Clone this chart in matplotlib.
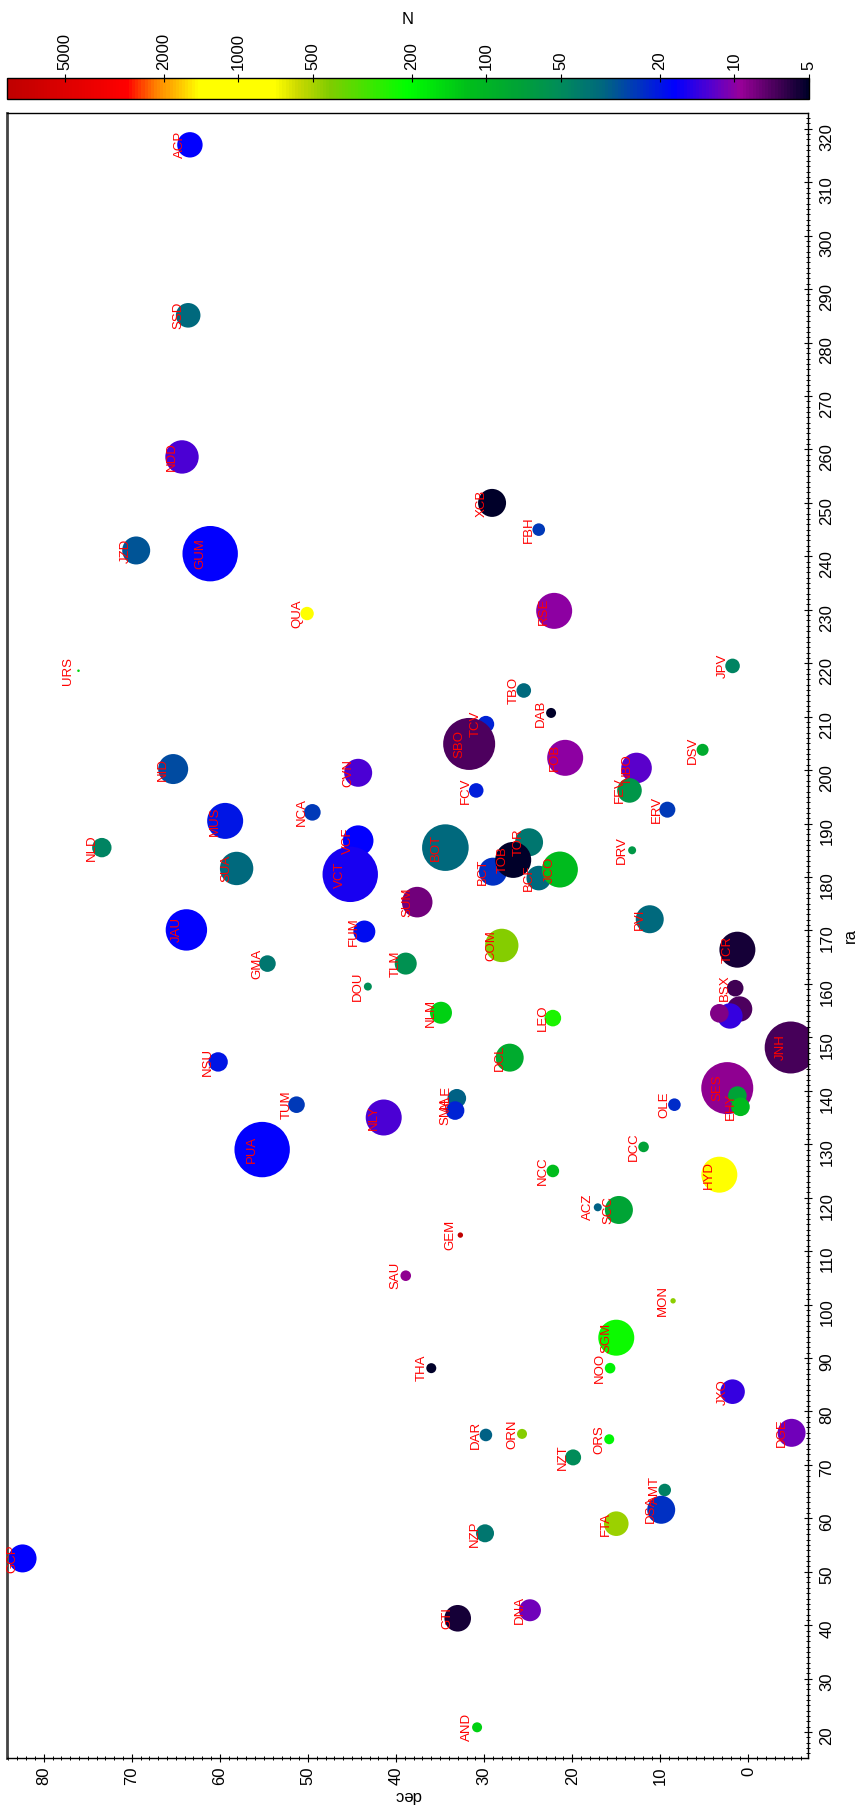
import numpy as np
import matplotlib
matplotlib.use('Agg')
import matplotlib.pyplot as plt
from matplotlib.colors import LinearSegmentedColormap, LogNorm
from matplotlib.ticker import MultipleLocator

plt.rcParams['font.family'] = ['Liberation Sans', 'DejaVu Sans']

# shower code, ra, dec, N and bubble weight (drawn in this order)
code = ['GCP', 'GTI', 'DNA', 'AND', 'NZP', 'FTA', 'AMT', 'DSA', 'NZT', 'DAR',
        'ORN', 'ORS', 'DGE', 'JXO', 'THA', 'NOO', 'SGM', 'MON', 'SAU', 'GEM',
        'ACZ', 'SCC', 'HYD', 'NCC', 'DCC', 'PUA', 'NLY', 'TUM', 'ALE', 'SMA',
        'OLE', 'SES', '', 'EHY', 'NSU', 'DCL', 'JNH', 'LEO', 'NLM', 'BSX',
        '', '', '', 'DOU', 'GMA', 'TLM', 'TCR', 'COM', 'FUM', 'JAU',
        'PVI', 'SUM', 'SUA', 'VCF', 'VCT', 'BOT', 'NLD', 'TOR', 'BCT', 'TOB',
        'BCF', 'JCO', 'DRV', 'MUS', 'NCA', 'ERV', 'FCV', 'NBO', 'FEV', 'NID',
        'CVN', 'FOB', 'DSV', 'TCV', 'SBO', 'DAB', 'TBO', 'URS', 'JPV', 'QUA',
        'RSE', 'GUM', 'JZD', 'FBH', 'XCB', 'NDD', 'SSD', 'ACP']
ra = [52.5, 41.3, 42.8, 20.9, 57.2, 59.0, 65.3, 61.6, 71.4, 75.6,
      75.8, 74.8, 76.0, 83.7, 88.1, 88.1, 93.8, 100.7, 105.4, 113.0,
      118.2, 117.7, 124.3, 125.0, 129.5, 129.0, 135.0, 137.4, 138.6, 136.3,
      137.4, 140.5, 139.1, 137.0, 145.4, 146.2, 148.1, 153.6, 154.6, 159.2,
      155.3, 154.0, 154.5, 159.5, 163.8, 163.8, 166.4, 167.2, 169.8, 170.1,
      172.1, 175.3, 181.6, 186.8, 180.5, 185.5, 185.5, 186.5, 181.0, 183.2,
      179.8, 181.4, 185.0, 190.5, 192.1, 192.6, 196.2, 200.4, 196.2, 200.2,
      199.5, 202.3, 203.8, 208.6, 204.9, 210.7, 214.9, 218.6, 219.5, 229.3,
      229.8, 240.5, 241.1, 245.0, 250.0, 258.6, 285.1, 317.0]
dec = [82.4, 33.0, 24.8, 30.8, 29.9, 15.0, 9.5, 9.9, 19.9, 29.8,
       25.7, 15.8, -4.9, 1.8, 36.0, 15.7, 15.0, 8.55, 38.9, 32.7,
       17.1, 14.7, 3.3, 22.2, 11.9, 55.2, 41.4, 51.3, 33.1, 33.3,
       8.4, 2.4, 1.25, 0.9, 60.2, 27.1, -4.8, 22.2, 34.9, 1.5,
       1.0, 2.1, 3.3, 43.2, 54.6, 38.9, 1.25, 28.0, 43.6, 63.8,
       11.2, 37.6, 58.1, 44.3, 45.2, 34.4, 73.4, 24.9, 29.0, 26.7,
       23.8, 21.4, 13.2, 59.4, 49.5, 9.2, 30.9, 12.7, 13.5, 65.3,
       44.3, 20.8, 5.2, 29.8, 31.7, 22.4, 25.5, 76.05, 1.8, 50.1,
       22.05, 61.1, 69.5, 23.8, 29.1, 64.3, 63.6, 63.4]
N = [17, 5.5, 11, 140, 40, 470, 45, 24, 50, 33,
     430, 195, 11, 14, 5, 190, 220, 450, 9, 8600,
     33, 75, 900, 115, 73, 17, 13, 25, 33, 22,
     23, 9, 73, 110, 20, 85, 6.7, 240, 140, 6.5,
     7, 14, 8.5, 52, 40, 55, 5.5, 440, 19, 17,
     35, 8, 35, 17, 16, 35, 46, 40, 24, 5,
     35, 110, 62, 20, 25, 25, 21, 12, 60, 28,
     13, 10, 85, 22, 7, 5, 35, 150, 46, 1000,
     10, 17, 30, 25, 5, 13, 35, 17]
w = [14, 13.3, 11, 5, 9, 12.3, 6.3, 14, 8, 6.3,
     5, 5, 14, 12.3, 5, 5.3, 18, 2.7, 5.3, 2.7,
     4, 14, 18, 6.3, 5.3, 27.7, 18, 8.3, 9.3, 9.3,
     6.3, 26, 9.3, 9.3, 9.7, 14, 26, 8.3, 11, 8.3,
     12.7, 12.7, 9.3, 4, 8.3, 11, 18, 16.7, 11, 20.7,
     14, 15.3, 16.7, 15.3, 27.7, 23.3, 9.7, 14, 14, 18,
     12.3, 18, 4, 18, 8.3, 8, 7.3, 15.3, 12.3, 15,
     14, 18, 6, 8.3, 26, 5, 7.3, 1.3, 7.3, 6.7,
     18, 27.7, 14, 6.3, 14, 16.7, 12.3, 12.7]

cb_ticks = [5, 10, 20, 50, 100, 200, 500, 1000, 2000, 5000]

cmap = LinearSegmentedColormap.from_list('nmap', [
    (0.0, (0.0, 0.0, 0.16)),
    (0.036, (0.25, 0.0, 0.33)),
    (0.084, (0.6, 0.0, 0.6)),
    (0.118, (0.35, 0.0, 0.8)),
    (0.166, (0.0, 0.0, 1.0)),
    (0.255, (0.0, 0.4, 0.5)),
    (0.31, (0.0, 0.55, 0.35)),
    (0.358, (0.0, 0.63, 0.22)),
    (0.426, (0.0, 0.75, 0.1)),
    (0.501, (0.0, 1.0, 0.0)),
    (0.597, (0.5, 0.8, 0.0)),
    (0.638, (0.8, 0.85, 0.0)),
    (0.666, (1.0, 1.0, 0.0)),
    (0.762, (1.0, 1.0, 0.0)),
    (0.782, (1.0, 0.8, 0.0)),
    (0.816, (1.0, 0.5, 0.0)),
    (0.851, (1.0, 0.0, 0.0)),
    (0.967, (0.8, 0.0, 0.0)),
    (1.0, (0.75, 0.0, 0.0))])
norm = LogNorm(vmin=5, vmax=max(N))

fig = plt.figure(figsize=(8.62, 18.16), dpi=100)
ax = fig.add_axes([6.7 / 862, 57.7 / 1816, 801.6 / 862, 1645 / 1816])
cax = fig.add_axes([6.6 / 862, (1816 - 99) / 1816, 802.4 / 862, 21 / 1816])

sizes = (1.44 * np.array(w)) ** 2
sc = ax.scatter(dec, ra, s=sizes, c=N, cmap=cmap, norm=norm,
                edgecolors='none', zorder=2)
for c, x, y in zip(code, dec, ra):
    if c:
        ax.annotate(c, (x, y), xytext=(-4, 0), textcoords='offset pixels',
                    rotation=90, ha='right', va='center', color='red',
                    fontsize=9.5, zorder=3)

ax.set_xlim(84.2, -6.8)
ax.set_ylim(15.1, 322.9)
ax.set_xticks(np.arange(0, 81, 10))
ax.set_yticks(np.arange(20, 321, 10))
ax.xaxis.set_minor_locator(MultipleLocator(1))
ax.yaxis.set_minor_locator(MultipleLocator(1))
ax.yaxis.tick_right()
ax.yaxis.set_label_position('right')
ax.tick_params(which='major', direction='inout', length=6, width=0.8,
               labelsize=12, labelrotation=90, pad=3)
ax.tick_params(which='minor', direction='inout', length=3, width=0.7)
ax.tick_params(axis='y', which='major', pad=5)
ax.set_xlabel('dec', fontsize=12, rotation=180, labelpad=2)
ax.set_ylabel('ra', fontsize=12, rotation=90, labelpad=6)
for sp in ax.spines.values():
    sp.set_linewidth(1.0)
ax.spines['left'].set_linewidth(2)
ax.spines['left'].set_color('#444444')

cb = fig.colorbar(sc, cax=cax, orientation='horizontal')
cb.minorticks_off()
cb.set_ticks(cb_ticks)
cb.set_ticklabels([str(t) for t in cb_ticks])
cax.invert_xaxis()
cax.xaxis.set_ticks_position('top')
cax.xaxis.set_label_position('top')
cax.tick_params(direction='inout', length=6, width=0.8, labelsize=12,
                labelrotation=90, pad=3)
cb.outline.set_linewidth(1.0)
cax.set_xlabel('N', fontsize=12, labelpad=6)

fig.savefig('out.png', dpi=100)
